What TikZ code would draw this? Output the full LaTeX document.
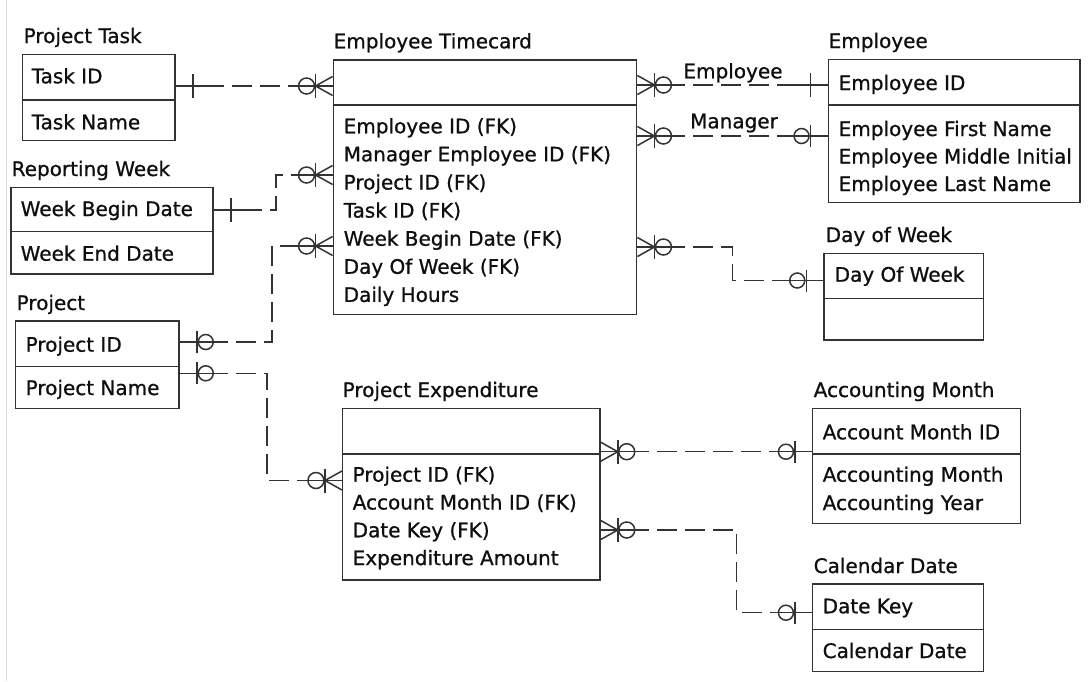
\documentclass[tikz,border=0pt]{standalone}
\usepackage{fontspec}
\setmainfont{DejaVu Sans}[FakeBold=0.8]
\usetikzlibrary{fit}

\definecolor{ink}{gray}{0.06}
\definecolor{boxgray}{gray}{0.2}
\definecolor{linkgray}{gray}{0.2}

\tikzset{
  lnk/.style={draw=linkgray, line width=1.5pt},
  dsh/.style={lnk, dash pattern=on 20pt off 8pt},
  entbox/.style={draw=boxgray, line width=1.5pt, fill=white, inner sep=0pt},
  ttl/.style={anchor=base west, inner sep=0pt, font=\fontsize{20}{24}\selectfont, text=ink},
}

% entity box: name, left, top, right, bottom, divider
\newcommand{\erentity}[6]{%
  \coordinate (#1nw) at (#2,#3);
  \coordinate (#1se) at (#4,#5);
  \node[entbox, fit=(#1nw)(#1se)] (#1) {};
  \draw[draw=boxgray, line width=1.5pt] (#1.west |- 0,#6) -- (#1.east |- 0,#6);
}

% relationship ends; #1 point on the box edge, #2 = 1 (line leaves to the right) or -1 (to the left)
\newcommand{\relone}[2]{%
  \begin{scope}[shift={(#1)}, xscale=#2]
    \draw[lnk] (0,0) -- (40,0);
    \draw[lnk] (17,-12) -- (17,12);
  \end{scope}}
\newcommand{\relzeroone}[2]{%
  \begin{scope}[shift={(#1)}, xscale=#2]
    \draw[lnk] (0,0) -- (40,0);
    \draw[lnk] (17,-11) -- (17,11);
    \draw[lnk] (26,0) circle[radius=7.5];
  \end{scope}}
\newcommand{\relmany}[2]{%
  \begin{scope}[shift={(#1)}, xscale=#2]
    \draw[lnk] (0,0) -- (40,0);
    \draw[lnk] (0,-9.5) -- (17,0) -- (0,9.5);
    \draw[lnk] (17,-12) -- (17,12);
    \draw[lnk] (26,0) circle[radius=8];
  \end{scope}}

\begin{document}
\begin{tikzpicture}[x=1pt, y=-1pt]
\useasboundingbox (0,0) rectangle (1090,681);
\fill[white] (0,0) rectangle (1090,681);
\draw[black!12, line width=1pt] (6,0) -- (6,681);

% ---------- entities ----------
\erentity{task}{22.3}{54.3}{175}{140.7}{100}
\erentity{rw}{11}{187.3}{213}{274}{231.7}
\erentity{proj}{15.7}{321}{179}{408.3}{366.7}
\erentity{tc}{333.3}{60}{636.7}{314.3}{105}
\erentity{emp}{828.3}{59.3}{1080}{202.7}{105}
\erentity{dow}{824}{253.3}{983.3}{340}{298.3}
\erentity{pe}{342.7}{408.3}{600}{580}{454}
\erentity{am}{812.7}{408.3}{1020.7}{523.3}{454}
\erentity{cd}{812.7}{584}{983.3}{671.7}{629.3}

% ---------- titles ----------
\node[ttl] (taskT) at (23.5,43) {Project Task};
\node[ttl] (tcT) at (333.5,48.3) {Employee Timecard};
\node[ttl] (empT) at (828.5,48) {Employee};
\node[ttl] (rwT) at (11.5,176) {Reporting Week};
\node[ttl] (dowT) at (825.5,242) {Day of Week};
\node[ttl] (projT) at (16.5,310) {Project};
\node[ttl] (peT) at (342.5,397) {Project Expenditure};
\node[ttl] (amT) at (813.5,397) {Accounting Month};
\node[ttl] (cdT) at (813.5,573) {Calendar Date};

% ---------- attributes ----------
\node[ttl] (task1) at (31.5,83.3) {Task ID};
\node[ttl] (task2) at (31.5,129.3) {Task Name};

\node[ttl] (rw1) at (20.5,216) {Week Begin Date};
\node[ttl] (rw2) at (20.5,260.7) {Week End Date};

\node[ttl] (proj1) at (25.5,351.7) {Project ID};
\node[ttl] (proj2) at (25.5,395) {Project Name};

\foreach \t [count=\i] in {Employee ID (FK), Manager Employee ID (FK), Project ID (FK),
    Task ID (FK), Week Begin Date (FK), Day Of Week (FK), Daily Hours}
  \node[ttl] (tc\i) at (343.5,{133.3+28.1*(\i-1)}) {\t};

\node[ttl] (emp1) at (838.5,90) {Employee ID};
\foreach \t [count=\i] in {Employee First Name, Employee Middle Initial, Employee Last Name}
  \node[ttl] (empa\i) at (838.5,{136+27.5*(\i-1)}) {\t};

\node[ttl] (dow1) at (834.5,281.7) {Day Of Week};

\foreach \t [count=\i] in {Project ID (FK), Account Month ID (FK), Date Key (FK), Expenditure Amount}
  \node[ttl] (pe\i) at (352.5,{481.7+27.8*(\i-1)}) {\t};

\node[ttl] (am1) at (822.5,439.3) {Account Month ID};
\node[ttl] (am2) at (822.5,481.7) {Accounting Month};
\node[ttl] (am3) at (822.5,510) {Accounting Year};

\node[ttl] (cd1) at (822.5,613.3) {Date Key};
\node[ttl] (cd2) at (822.5,658) {Calendar Date};

% ---------- relationships ----------
% Project Task -> Employee Timecard
\draw[dsh] (task.east |- 0,86) -- (tc.west |- 0,86);
\relone{task.east |- 0,86}{1}
\relmany{tc.west |- 0,86}{-1}

% Reporting Week -> Employee Timecard
\coordinate (rwbend) at (276,192);
\draw[dsh] (rw.east |- 0,210) -| (rwbend) |- (tc.west |- 0,175);
\relone{rw.east |- 0,210}{1}
\relmany{tc.west |- 0,175}{-1}

% Project -> Employee Timecard
\coordinate (pjbend) at (272,290);
\draw[dsh] (proj.east |- 0,342) -| (pjbend) |- (tc.west |- 0,246);
\relzeroone{proj.east |- 0,342}{1}
\relmany{tc.west |- 0,246}{-1}

% Project -> Project Expenditure
\coordinate (pebend) at (267,430);
\draw[dsh] (proj.east |- 0,373.3) -| (pebend) |- (pe.west |- 0,480.5);
\relzeroone{proj.east |- 0,373.3}{1}
\relmany{pe.west |- 0,480.5}{-1}

% Employee Timecard -> Employee (employee and manager roles)
\draw[dsh] (tc.east |- 0,85) -- (emp.west |- 0,85);
\relmany{tc.east |- 0,85}{1}
\relone{emp.west |- 0,85}{-1}
\node[ttl, anchor=base] (lblemp) at (733,78.3) {Employee};

\draw[dsh] (tc.east |- 0,136) -- (emp.west |- 0,136);
\relmany{tc.east |- 0,136}{1}
\relzeroone{emp.west |- 0,136}{-1}
\node[ttl, anchor=base] (lblmgr) at (734,128.3) {Manager};

% Employee Timecard -> Day of Week
\coordinate (dwbend) at (732.7,264);
\draw[dsh] (tc.east |- 0,247) -| (dwbend) |- (dow.west |- 0,280.5);
\relmany{tc.east |- 0,247}{1}
\relzeroone{dow.west |- 0,280.5}{-1}

% Project Expenditure -> Accounting Month
\draw[dsh] (pe.east |- 0,451.7) -- (am.west |- 0,451.7);
\relmany{pe.east |- 0,451.7}{1}
\relzeroone{am.west |- 0,451.7}{-1}

% Project Expenditure -> Calendar Date
\coordinate (cdbend) at (736.7,570);
\draw[dsh] (pe.east |- 0,530) -| (cdbend) |- (cd.west |- 0,612.7);
\relmany{pe.east |- 0,530}{1}
\relzeroone{cd.west |- 0,612.7}{-1}
\end{tikzpicture}
\end{document}
